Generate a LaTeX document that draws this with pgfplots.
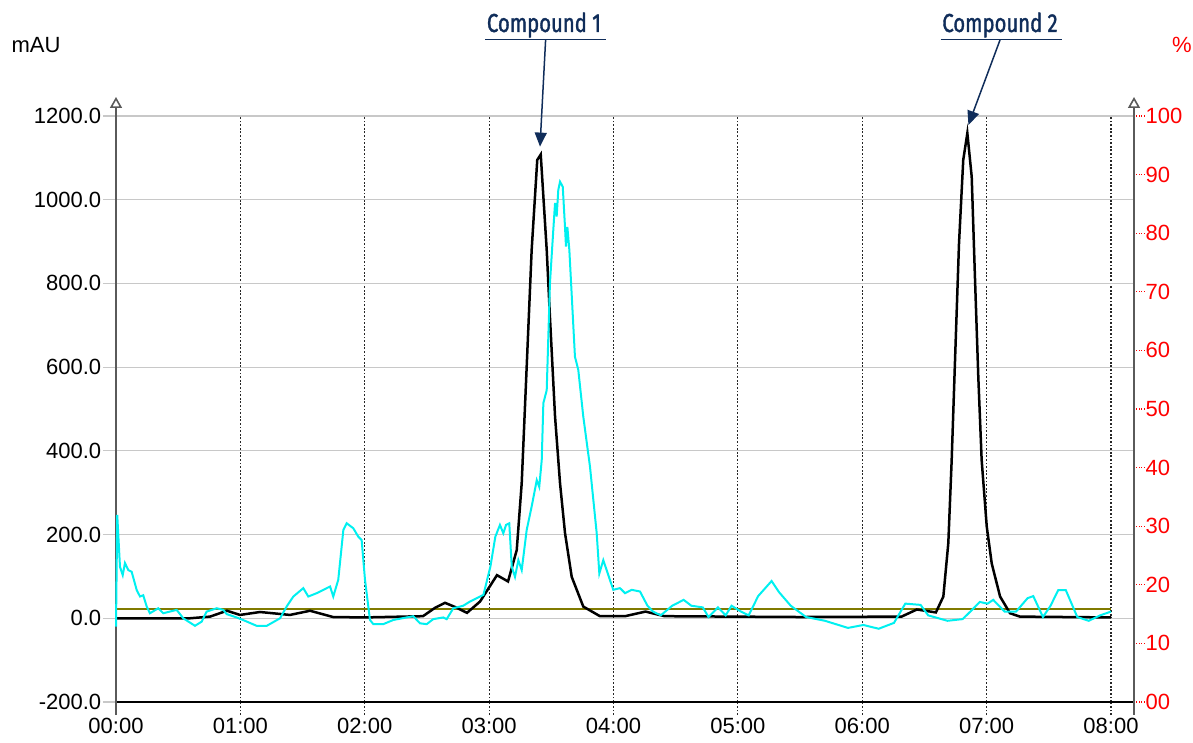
\documentclass[border=0pt]{standalone}
\usepackage{fontspec}
\setmainfont{Liberation Sans}
\newfontfamily\cmpfont[FakeStretch=0.78,FakeBold=1.4]{Fira Sans}
\usepackage{pgfplots}
\usepackage{pgfplotstable}
\pgfplotsset{compat=1.18}
\usetikzlibrary{arrows.meta}
\definecolor{navy}{RGB}{16,45,90}
\definecolor{olivel}{RGB}{128,122,0}
\definecolor{cyanl}{RGB}{0,240,240}
\definecolor{gridgray}{RGB}{200,200,200}
\definecolor{axgray}{RGB}{90,90,90}

\pgfplotstableread{
t y
0.000 0
0.595 0
0.756 4
0.892 18
0.997 8
1.158 15
1.399 8
1.560 18
1.745 3
1.994 2
2.468 5
2.565 25
2.645 37
2.726 27
2.822 13
2.927 40
3.063 103
3.152 88
3.222 163
3.262 323
3.302 601
3.342 880
3.387 1095
3.415 1108
3.463 880
3.489 720
3.530 482
3.570 323
3.610 204
3.664 99
3.757 28
3.891 5
4.093 5
4.257 16
4.411 5
5.499 3
6.316 4
6.439 21
6.592 14
6.652 52
6.692 180
6.719 378
6.746 617
6.778 896
6.812 1095
6.845 1159
6.880 1055
6.906 816
6.933 577
6.960 378
7.001 219
7.041 131
7.108 52
7.188 12
7.268 4
8.000 2
}\blacktrace

\pgfplotstableread{
t y
0.000 -20
0.010 247
0.032 123
0.054 103
0.072 132
0.099 115
0.126 111
0.166 68
0.193 52
0.219 55
0.247 28
0.273 12
0.340 24
0.380 12
0.488 20
0.541 0
0.635 -18
0.689 -8
0.729 16
0.810 24
0.863 20
0.890 10
0.970 2
1.037 -6
1.131 -18
1.212 -18
1.319 0
1.372 28
1.426 52
1.506 72
1.546 52
1.614 60
1.721 76
1.747 52
1.787 92
1.828 211
1.855 227
1.908 215
1.948 195
1.975 187
2.002 92
2.042 -4
2.069 -14
2.149 -14
2.230 -4
2.390 5
2.444 -12
2.498 -14
2.551 -2
2.632 2
2.659 -2
2.712 24
2.792 30
2.846 40
2.927 52
2.954 56
3.010 123
3.050 195
3.087 223
3.114 203
3.136 223
3.162 227
3.182 123
3.208 99
3.235 139
3.262 115
3.302 211
3.342 267
3.383 330
3.403 314
3.423 378
3.436 514
3.463 545
3.489 800
3.516 928
3.530 992
3.543 960
3.556 1023
3.570 1043
3.592 1031
3.610 935
3.618 888
3.629 935
3.645 880
3.690 625
3.717 593
3.757 482
3.811 362
3.865 203
3.886 107
3.918 139
3.945 115
3.998 68
4.052 72
4.093 60
4.146 68
4.213 64
4.273 30
4.318 16
4.380 7
4.472 30
4.564 44
4.626 30
4.718 26
4.764 3
4.840 26
4.902 7
4.949 30
5.025 16
5.087 7
5.163 53
5.271 89
5.332 62
5.425 30
5.548 3
5.700 -6
5.885 -23
6.009 -16
6.132 -25
6.255 -11
6.346 35
6.469 32
6.530 7
6.685 -6
6.807 -2
6.869 16
6.945 39
7.007 35
7.053 44
7.145 16
7.237 16
7.329 48
7.375 53
7.453 3
7.514 30
7.575 67
7.637 67
7.729 3
7.821 -6
7.913 7
8.000 16
}\cyantrace

\begin{document}
\begin{tikzpicture}
\path[use as bounding box] (-58pt,-20.5pt) rectangle (538.5pt,351pt);
\begin{axis}[
  at={(0pt,0pt)}, anchor=south west,
  width=509pt, height=293pt, scale only axis,
  xmin=0, xmax=8.1849, ymin=-200, ymax=1200,
  axis x line*=bottom, axis y line*=left,
  x axis line style={black, line width=0.8pt, -},
  y axis line style={axgray, line width=0.8pt, -{Triangle[open,width=6pt,length=5.5pt]}, shorten >=-9.5pt, shorten <=-6.5pt},
  xtick={0,1,...,8},
  xticklabels={00:00,01:00,02:00,03:00,04:00,05:00,06:00,07:00,08:00},
  ytick={-200,0,200,400,600,800,1000,1200},
  yticklabels={-200.0,0.0,200.0,400.0,600.0,800.0,1000.0,1200.0},
  xmajorgrids, ymajorgrids,
  x grid style={black!85, dash pattern=on 0.9pt off 0.9pt, line width=0.6pt},
  y grid style={gridgray, line width=0.6pt},
  tick align=outside, major tick length=6.5pt,
  xtick style={black!85, dash pattern=on 0.9pt off 0.9pt, line width=0.6pt},
  ytick style={gridgray, line width=0.6pt},
  tick label style={font=\fontsize{11}{13}\selectfont},
  yticklabel style={inner sep=0.7pt},
  xticklabel style={inner sep=1.5pt},
  clip=false,
]
\addplot[olivel, line width=1.1pt] coordinates {(0,22) (8,22)};
\addplot[black, line width=1.25pt] table[x=t,y=y] {\blacktrace};
\addplot[cyanl, line width=1pt] table[x=t,y=y] {\cyantrace};
\end{axis}
\begin{axis}[
  at={(0pt,0pt)}, anchor=south west,
  width=509pt, height=293pt, scale only axis,
  xmin=0, xmax=8.1849, ymin=0, ymax=100,
  axis x line=none, axis y line*=right,
  y axis line style={axgray, line width=0.8pt, -{Triangle[open,width=6pt,length=5.5pt]}, shorten >=-9.5pt, shorten <=-6.5pt},
  ytick={0,10,...,100},
  yticklabels={00,10,20,30,40,50,60,70,80,90,100},
  tick align=outside, major tick length=5pt,
  ytick style={red, densely dotted, line width=0.6pt},
  yticklabel style={red, inner sep=0.6pt, font=\fontsize{11}{13}\selectfont},
]
\end{axis}
\node[font=\fontsize{11}{13}\selectfont] at (-40pt,328.5pt) {mAU};
\node[font=\fontsize{11}{13}\selectfont, text=red] at (533pt,328.5pt) {\%};
\node[anchor=base, text=navy, font=\cmpfont\fontsize{13}{15}\selectfont, inner sep=0pt] at (214pt,335pt) {Compound 1};
\draw[navy, line width=0.75pt] (184.5pt,331.3pt) -- (245pt,331.3pt);
\draw[navy, line width=0.75pt, -{Triangle[width=6pt,length=7pt]}] (214.8pt,331pt) -- (212pt,277.7pt);
\node[anchor=base, text=navy, font=\cmpfont\fontsize{13}{15}\selectfont, inner sep=0pt] at (442pt,335pt) {Compound 2};
\draw[navy, line width=0.75pt] (412.3pt,331.3pt) -- (472.8pt,331.3pt);
\draw[navy, line width=0.75pt, -{Triangle[width=6pt,length=7pt]}] (442pt,331pt) -- (426.2pt,288.5pt);
\end{tikzpicture}
\end{document}
